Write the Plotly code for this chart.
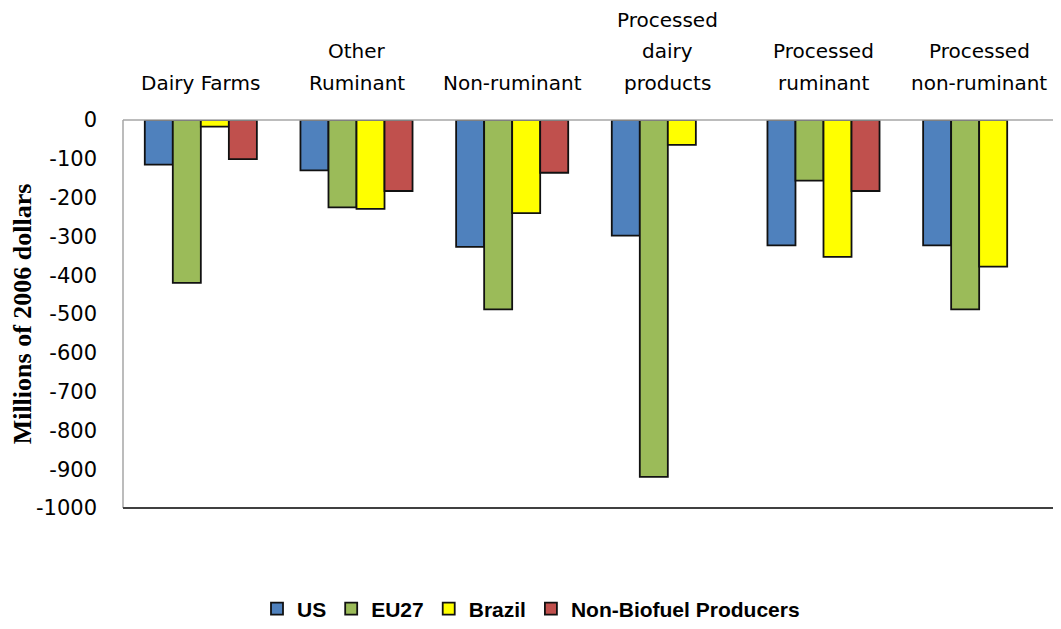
import plotly.graph_objects as go

categories = ["Dairy Farms", "Other Ruminant", "Non-ruminant", "Processed dairy products",
              "Processed ruminant", "Processed non-ruminant"]
category_lines = [["Dairy Farms"], ["Other", "Ruminant"], ["Non-ruminant"],
                  ["Processed", "dairy", "products"], ["Processed", "ruminant"],
                  ["Processed", "non-ruminant"]]
series_names = ["US", "EU27", "Brazil", "Non-Biofuel Producers"]
us = [-115, -130, -327, -298, -323, -323]
eu27 = [-420, -225, -488, -920, -156, -488]
brazil = [-17, -229, -240, -64, -353, -378]
non_biofuel = [-101, -183, -136, None, -183, None]
series_values = [us, eu27, brazil, non_biofuel]
colors = ["#4F81BD", "#9BBB59", "#FFFF00", "#C0504D"]
yticks = list(range(-1000, 1, 100))

fig = go.Figure()
for name, vals, col in zip(series_names, series_values, colors):
    fig.add_trace(go.Bar(x=categories, y=vals, name=name,
                         marker=dict(color=col, line=dict(color="#111111", width=1.8))))

# page has an 8px body margin; figure is sized/offset accordingly
W, H = 1053, 621
plot_top = 112
plot_h = 388
anns = []
for cat, lines in zip(categories, category_lines):
    n = len(lines)
    for i, line in enumerate(lines):
        center_y = 75 - (n - 1 - i) * 31.5
        anns.append(dict(x=cat, xref="x", yref="paper",
                         y=1 + (plot_top - center_y) / plot_h, yanchor="middle",
                         text=line, showarrow=False,
                         font=dict(family="DejaVu Sans", size=20, color="black")))

light = "#A6A6A6"
dark = "#404040"
shapes = [
    dict(type="line", xref="paper", yref="paper", x0=0, x1=0, y0=0, y1=1,
         line=dict(color=light, width=1.5)),
    dict(type="line", xref="paper", yref="paper", x0=0, x1=1, y0=1, y1=1,
         line=dict(color=light, width=1.5)),
    dict(type="line", xref="paper", yref="paper", x0=1, x1=1, y0=0, y1=1,
         line=dict(color=dark, width=2)),
    dict(type="line", xref="paper", yref="paper", x0=0, x1=1, y0=0, y1=0,
         line=dict(color=dark, width=2)),
]

fig.update_layout(
    width=W, height=H,
    margin=dict(l=115, r=4, t=plot_top, b=H - plot_top - plot_h),
    paper_bgcolor="white", plot_bgcolor="white",
    barmode="group", bargap=0.28, bargroupgap=0,
    annotations=anns, shapes=shapes,
    showlegend=True,
    legend=dict(orientation="h", xref="container", yref="container",
                x=(531 - 8) / W, y=1 - 601 / H,
                xanchor="center", yanchor="middle",
                font=dict(family="Liberation Sans", size=21, color="black", weight="bold"),
                itemwidth=30, tracegroupgap=0),
    xaxis=dict(showticklabels=False, showline=False, ticks="", showgrid=False,
               automargin=False),
    yaxis=dict(range=[-1000, 0], tickvals=yticks, ticktext=[str(v) for v in yticks],
               showgrid=False, zeroline=False, showline=False, ticks="",
               automargin=False, ticklabelstandoff=25,
               tickfont=dict(family="DejaVu Sans", size=21, color="black"),
               title=dict(text="Millions of 2006 dollars", standoff=12,
                          font=dict(family="Liberation Serif", size=26, color="black",
                                    weight="bold"))),
)

fig.write_html("out.html")
